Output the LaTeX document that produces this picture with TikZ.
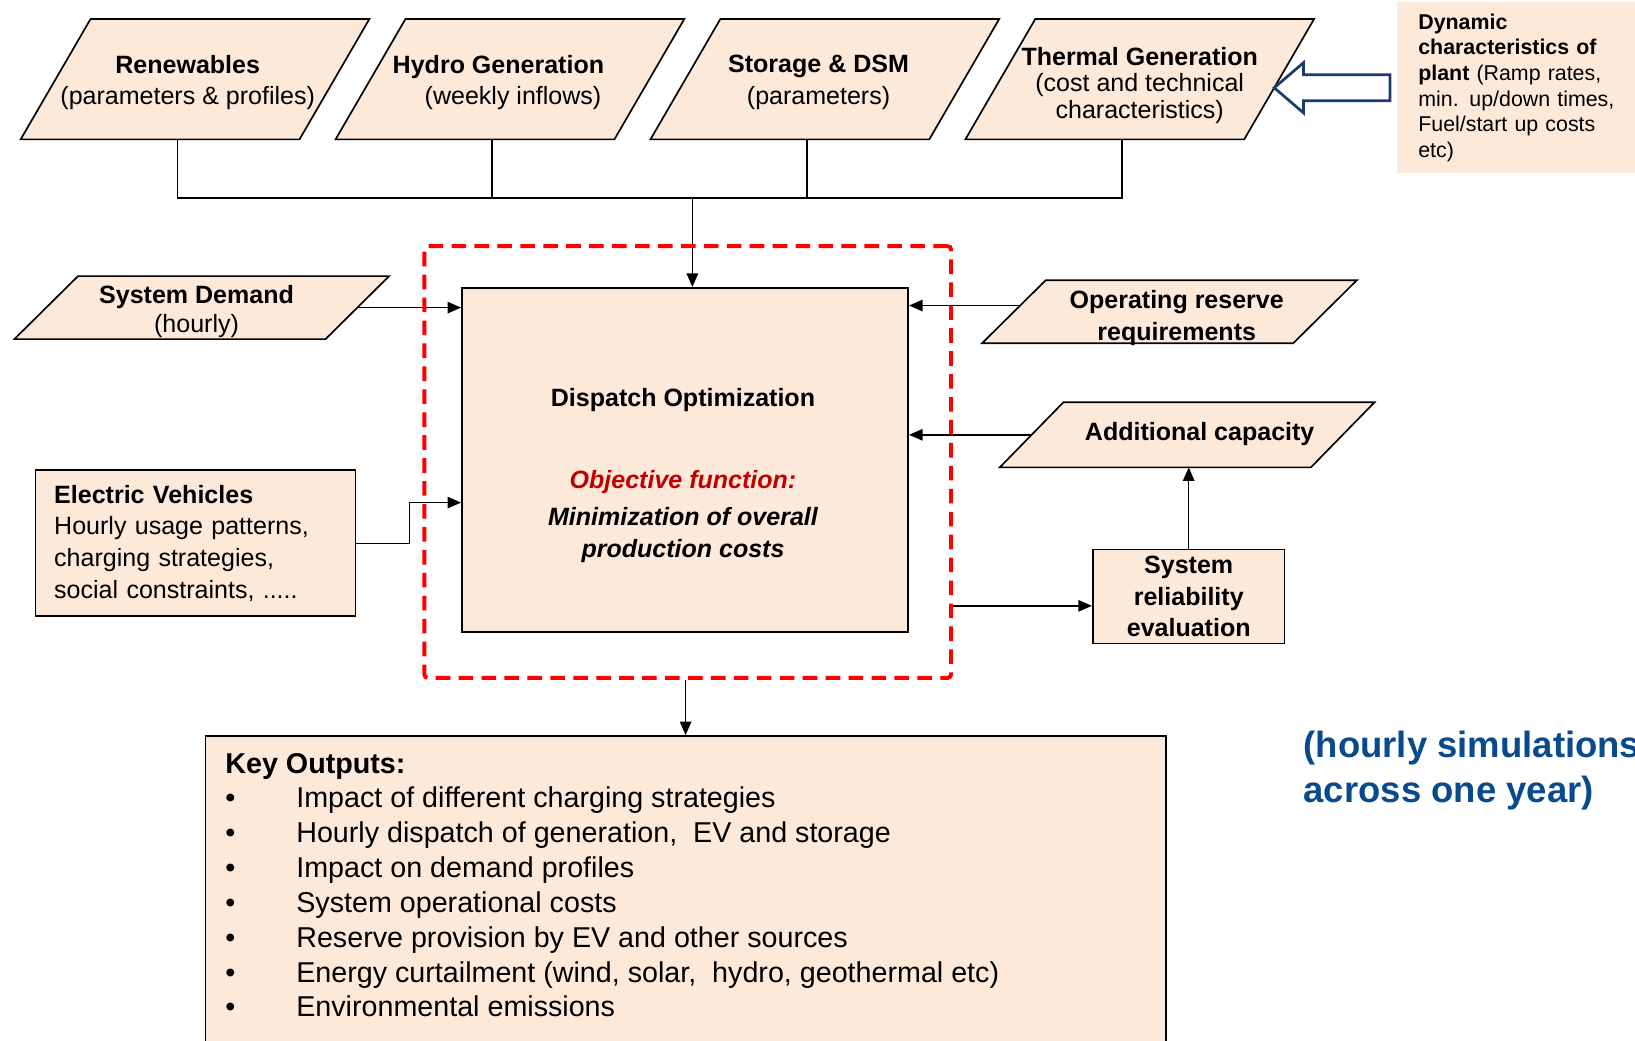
\documentclass[tikz,border=0pt]{standalone}
\usepackage{fontspec}
\setmainfont{Liberation Sans}
\usetikzlibrary{arrows.meta}
\usepackage{xcolor}

\definecolor{peach}{HTML}{FDE9D9}
\definecolor{objred}{HTML}{C00000}
\definecolor{simblue}{HTML}{084A8C}
\definecolor{navy}{HTML}{1B3C6B}

\pgfdeclarelayer{back}
\pgfdeclarelayer{links}
\pgfsetlayers{back,links,main}

% parallelogram drawn round a (rectangular) node
\newcommand\slantbox[2]{%
  \path[slant] ([xshift=#2]#1.north west) -- (#1.north east)
    -- ([xshift=-#2]#1.south east) -- (#1.south west) -- cycle;}
\newcommand\keyitem[1]{\makebox[68pt][l]{\textbullet}#1}

\begin{document}
\begin{tikzpicture}[x=1pt,y=-1pt,
    slant/.style={draw, line width=1.6pt, fill=peach},
    inbox/.style={minimum width=334pt, minimum height=115pt, inner sep=0pt},
    flatbox/.style={minimum width=359pt, minimum height=60pt, inner sep=0pt},
    boxtext/.style={align=center, inner sep=0pt, font=\fontsize{24}{30}\selectfont},
    plainbox/.style={draw, line width=1.6pt, fill=peach, inner sep=0pt},
    flow/.style={line width=1.3pt, -{Triangle[length=13pt,width=11pt]}},
    busline/.style={line width=1.3pt},
    redframe/.style={draw=red, line width=3.8pt, dash pattern=on 14pt off 8pt, rounded corners=3pt, inner sep=0pt}]
    \useasboundingbox (0,0) rectangle (1568,998);

    % inputs along the top
    \node[inbox, label={[boxtext, shift={(-7pt,-3pt)}]center:{\textbf{Renewables}\\(parameters \& profiles)}}] (ren) at (187,76) {};
    \node[inbox, label={[boxtext, shift={(-11pt,-3pt)}]center:{\textbf{Hydro Generation}\\\hspace*{28pt}(weekly inflows)}}] (hyd) at (489,76) {};
    \node[inbox, label={[boxtext, shift={(-6pt,-3pt)}]center:{\textbf{Storage \& DSM}\\(parameters)}}] (sto) at (791,76) {};
    \node[inbox, label={[boxtext, font=\fontsize{24}{25}\selectfont, shift={(0pt,-6pt)}]center:{\textbf{Thermal Generation}\\(cost and technical\\characteristics)}}] (the) at (1093,76) {};

    \node[fill=peach, minimum width=240pt, minimum height=164pt, text width=200pt, inner xsep=18pt, align=left, anchor=north west, font=\fontsize{20.5}{24.6}\selectfont] (dyn) at (1340,2)
        {\textbf{Dynamic}\\\textbf{characteristics of}\\\textbf{plant} (Ramp rates,\\min. up/down times,\\Fuel/start up costs\\etc)};

    % side inputs
    \node[flatbox, label={[boxtext, font=\fontsize{24}{28}\selectfont, shift={(-5pt,-4pt)}]center:{\textbf{System Demand}\\(hourly)}}] (dem) at (193.5,295) {};
    \node[flatbox, label={[boxtext, font=\fontsize{24}{30}\selectfont\bfseries, shift={(7pt,-6pt)}]center:{Operating reserve\\requirements}}] (opr) at (1121.5,299) {};
    \node[flatbox, minimum height=62pt, label={[boxtext, font=\fontsize{24}{30}\selectfont\bfseries, shift={(12pt,1pt)}]center:{Additional capacity}}] (add) at (1138.5,417) {};

    \node[plainbox, minimum width=307pt, minimum height=140pt, text width=271pt, inner xsep=18pt, align=left, font=\fontsize{24}{30.3}\selectfont] (ev) at (187.5,521)
        {\textbf{Electric Vehicles}\\Hourly usage patterns,\\charging strategies,\\social constraints, .....};

    % model
    \node[redframe, minimum width=505pt, minimum height=414pt] (frame) at (659.5,443) {};
    \node[plainbox, minimum width=428pt, minimum height=330pt] (disp) at (657,441) {};
    \node[align=center, font=\fontsize{24}{31}\selectfont] (distext) at (655,456)
        {\textbf{Dispatch Optimization}\\[48pt]\textcolor{objred}{\bfseries\itshape Objective function:}\\[4pt]
         {\bfseries\itshape Minimization of overall}\\{\bfseries\itshape production costs}};

    \node[plainbox, minimum width=184pt, minimum height=90pt, align=center, font=\fontsize{24}{30}\selectfont\bfseries] (rel) at (1140,572) {System\\reliability\\evaluation};

    % outputs
    \node[plainbox, minimum width=921pt, minimum height=320pt, anchor=north] (out) at (657.5,705) {};
    \node[anchor=north west, inner sep=0pt, align=left, font=\fontsize{27.5}{33.4}\selectfont] (outtext) at (216,722)
        {\textbf{Key Outputs:}\\
         \keyitem{Impact of different charging strategies}\\
         \keyitem{Hourly dispatch of generation,\ \ EV and storage}\\
         \keyitem{Impact on demand profiles}\\
         \keyitem{System operational costs}\\
         \keyitem{Reserve provision by EV and other sources}\\
         \keyitem{Energy curtailment (wind, solar,\ \ hydro, geothermal etc)}\\
         \keyitem{Environmental emissions}};

    \node[anchor=west, align=left, inner sep=0pt, text=simblue, font=\fontsize{35}{44}\selectfont\bfseries] (sim) at (1250,739)
        {(hourly simulations\\across one year)};

    \begin{pgfonlayer}{back}
        \slantbox{ren}{67pt}
        \slantbox{hyd}{67pt}
        \slantbox{sto}{67pt}
        \slantbox{the}{67pt}
        \slantbox{dem}{61pt}
        \slantbox{opr}{61pt}
        \slantbox{add}{61pt}
    \end{pgfonlayer}

    \begin{pgfonlayer}{links}
        \coordinate (bus) at (664,190);
        \foreach \n in {ren,hyd,sto,the}
            \draw[busline] ([xshift=-17pt]\n.south) |- (bus);
        \draw[flow] (bus) -- (bus |- disp.north);

        \draw[flow] ([xshift=-30pt]dem.east) -- (dem.east -| disp.west);
        \draw[flow] (ev.east) -- ++(51,0) |- ([yshift=-41pt]disp.west);
        \coordinate (oprout) at ([yshift=6pt]opr.west);
        \draw[flow] ([xshift=37pt]oprout) -- (oprout -| disp.east);
        \draw[flow] ([xshift=30pt]add.west) -- (add.west -| disp.east);

        \coordinate (relin) at ([yshift=-9pt]rel.west);
        \draw[flow] (relin -| frame.east) -- (relin);
        \draw[flow] (rel.north) -- (rel.north |- add.south);
        \draw[flow] (out.north |- frame.south) -- (out.north);
    \end{pgfonlayer}

    % hollow arrow from plant data into thermal generation
    \draw[navy, line width=2.6pt, fill=white, line join=miter]
        ([shift={(-7pt,12.5pt)}]dyn.west) -- ++(-83pt,0pt) -- ++(0pt,11.5pt)
        -- ++(-28pt,-24pt) -- ++(28pt,-24pt) -- ++(0pt,11.5pt) -- ++(83pt,0pt) -- cycle;
\end{tikzpicture}
\end{document}
